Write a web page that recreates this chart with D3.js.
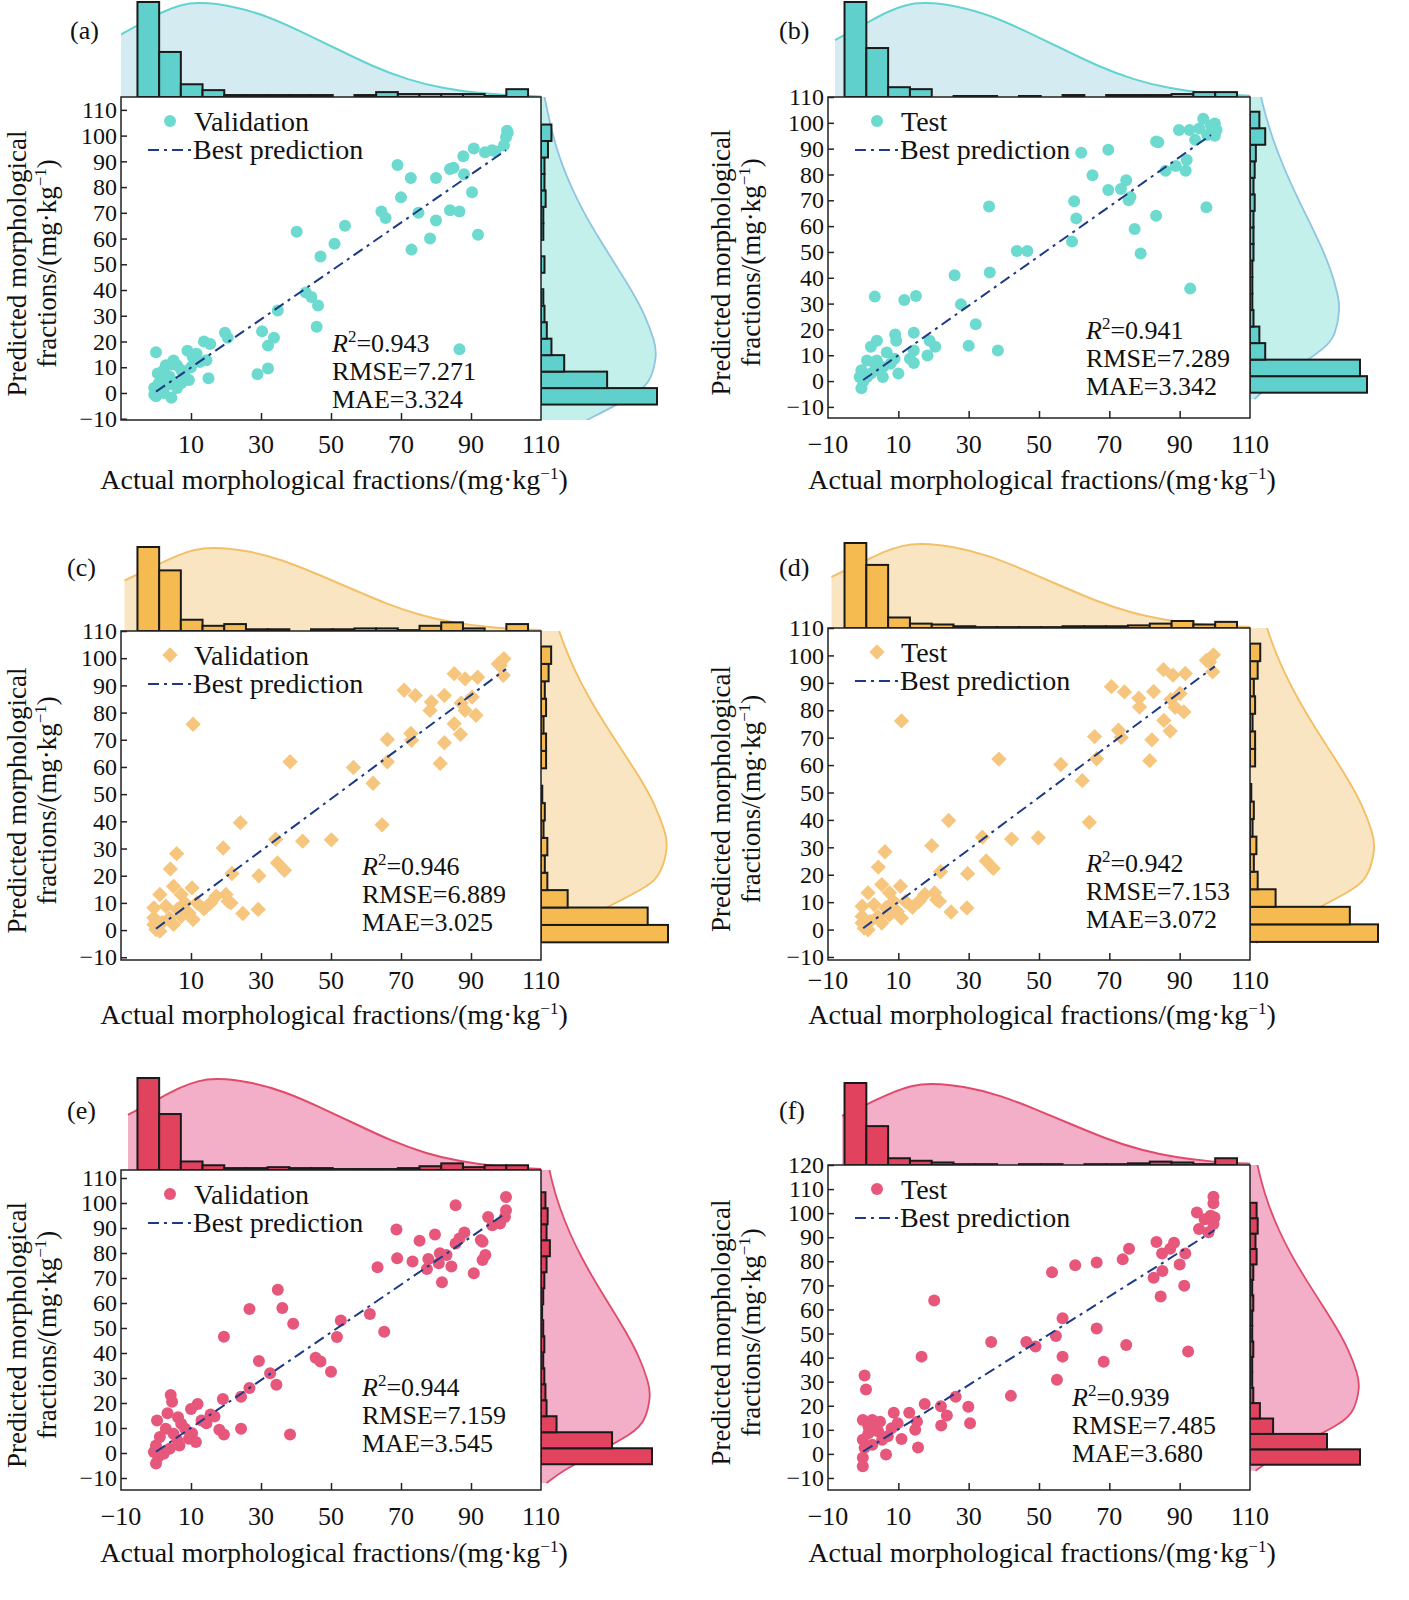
<!DOCTYPE html>
<html><head><meta charset="utf-8">
<script src="https://cdn.jsdelivr.net/npm/d3@7"></script>
<style>body{margin:0;background:#fff}svg{font-family:"Liberation Serif","DejaVu Serif",serif}</style>
</head><body><svg id="c" width="1409" height="1600"></svg>
<script>
// ---------- data ----------
const panelIds = ["a","b","c","d","e","f"];
const seriesNames = ["Validation","Test","Validation","Test","Validation","Test"];
const r2Values = ["0.943","0.941","0.946","0.942","0.944","0.939"];
const rmseValues = ["7.271","7.289","6.889","7.153","7.159","7.485"];
const maeValues = ["3.324","3.342","3.025","3.072","3.545","3.680"];
const xTickLabelsLeft = [10,30,50,70,90,110];
const xTickLabelsRight = [-10,10,30,50,70,90,110];
const yTicks110 = [-10,0,10,20,30,40,50,60,70,80,90,100,110];
const yTicks120 = [-10,0,10,20,30,40,50,60,70,80,90,100,110,120];

const pointsA = [[100.5,101],[100.3,101.9],[100,99.4],[99.4,96.2],[96,94.3],[90.8,95],[94,93.5],[97,93.8],[87.8,92],[84,87],[85,87.5],[88,85],[69,88.6],[72.8,83.5],[80,83.5],[70,76],[90.3,78],[64.4,70.5],[65.6,68],[75,70],[84,71],[86.7,70.5],[80,67],[92,61.5],[78.3,60],[73,55.7],[40.2,62.6],[54,65],[51,58],[47,53],[42.8,39],[44.4,37.3],[46.3,34],[34.8,32],[45.9,25.7],[30.3,24],[33.7,21.5],[32,18.4],[29,7.3],[32,9.5],[86.7,17],[19.7,23.4],[20.5,21.5],[13.7,20],[15.5,19],[14.4,12.7],[15,5.7],[0,15.8],[9,16.4],[10.5,14],[5,12.6],[2.8,10.8],[6,10.8],[7.2,8.9],[0.5,7.6],[1.7,5],[3.9,6.3],[8.3,6.3],[-0.5,2],[1,0.6],[4.4,-1.9],[-0.5,-0.6],[7.2,3.8],[10,10],[11.6,15.2],[3.3,3.2],[6,1.9],[0,-1.3],[2.2,0],[9.4,5],[5,4.4],[0.8,3.8],[4,11],[12.5,12],[2,8.5]];
const pointsB = [[96.7,101.6],[100,99.7],[100.5,97.2],[98.9,99],[95.6,97.8],[92.8,97.2],[89.8,97.2],[97.8,95.3],[100,95],[94.4,93.4],[83.3,92.8],[83.9,92.5],[62,88.4],[69.7,89.6],[92,85.6],[88.9,83.3],[86,81.4],[91.7,81.4],[65.2,79.7],[74.8,77.8],[69.7,74],[73.3,74.4],[76,71.3],[75.5,70],[60,69.6],[35.8,67.6],[97.6,67.3],[60.6,63],[83.3,64],[77.2,58.9],[59.4,54],[78.9,49.4],[43.7,50.4],[46.7,50.4],[26,41],[36,42],[93,35.8],[3.3,32.7],[11.7,31.4],[15,32.9],[27.8,29.7],[32,22],[30,13.7],[38.3,11.8],[14.4,18.7],[9.1,18],[9.4,15.6],[3.9,15.6],[2.2,13.3],[18.9,15.6],[20.5,13.3],[18.3,9.9],[14.4,11.8],[13.3,8.6],[14.4,7],[6.7,11.1],[8.9,8.6],[10,2.9],[5.6,5.4],[1.1,8],[3.3,6.7],[-0.5,4.2],[-1,1.6],[-0.5,-2.8],[1.1,1.6],[4.4,4.2],[2.2,2.9],[0,-0.3],[3.9,8],[7.8,6.7],[5.6,1.6]];
const pointsC = [[99.4,99.8],[98.3,97.3],[99.2,93.7],[97.8,97.9],[85.2,94.3],[88.3,92.4],[91.9,93],[70.9,88.2],[74.1,86.3],[82.4,86.3],[90.3,85.7],[87.2,83.5],[78.7,83.9],[78.3,80.8],[88.3,80.8],[91.4,79],[85.2,75.9],[87,72],[82.4,68.9],[81.2,61.3],[72.8,72.3],[73,69.8],[66.1,70.1],[66.1,61.9],[56.4,59.8],[62,54],[64.6,38.7],[10.6,75.7],[38.3,61.9],[24.1,39.5],[19.2,30.2],[5.9,28.1],[4.1,22.5],[34.2,33.4],[41.9,32.7],[50.1,33.2],[21.7,20.8],[29.4,20],[34.7,24.7],[36.7,22],[24.8,6.1],[29.2,7.6],[5,16.1],[10.3,15.5],[1.1,13.1],[7.2,13.1],[17.2,12.5],[20,13.1],[20.6,10.6],[21.4,10],[13.7,7.8],[10.6,3.9],[7.2,5.1],[3.9,4.5],[1.7,2.7],[0,0.2],[-0.6,2.1],[5,2.1],[2.8,8.8],[-0.6,8.2],[8.3,10],[11.7,10],[15.6,10],[6.1,7.6],[-0.6,4.5],[9.4,6.3],[1.1,-0.4]];
const pointsD = [[99.6,100.2],[98.5,97.6],[99.4,94],[97.6,98.2],[85.4,94.8],[88.1,92.8],[91.6,93.4],[70.6,88.6],[74.3,86.7],[82.6,86.8],[90.1,86.1],[87.5,83.9],[78.4,84.4],[78.6,81.2],[88.7,81.1],[91.2,79.4],[85.5,76.3],[87.3,72.4],[82.1,69.2],[81.5,61.6],[72.6,72.7],[73.4,70.1],[65.8,70.4],[66.4,62.3],[56.2,60.2],[62.3,54.3],[64.3,39.1],[10.9,76.1],[38.6,62.2],[24.3,39.8],[19.5,30.6],[6.2,28.4],[4.3,22.8],[33.9,33.7],[42.2,33],[49.8,33.5],[22,21.1],[29.7,20.4],[35,25],[37,22.3],[25,6.4],[29.5,7.9],[5.3,16.4],[10.6,15.8],[1.4,13.4],[7.5,13.4],[17.5,12.8],[20.3,13.4],[20.9,10.9],[21.7,10.3],[14,8.1],[10.9,4.2],[7.5,5.4],[4.2,4.8],[2,3],[0.3,0.5],[-0.3,2.4],[5.3,2.4],[3.1,9.1],[-0.3,8.5],[8.6,10.3],[12,10.3],[15.9,10.3],[6.4,7.9],[-0.3,4.8],[9.7,6.6],[1.4,-0.1]];
const pointsE = [[100,102.4],[100,97.1],[99.7,94.4],[98.3,91.8],[96.1,91.1],[94.9,94.4],[85.6,99.1],[88.1,88.2],[86.7,85.8],[85.6,83.8],[92.8,85.2],[93.3,84.5],[94.1,79.2],[93.3,77.2],[90.8,71.9],[68.7,89.4],[75.3,84.9],[79.7,87.4],[68.9,77.9],[73.3,76.6],[77.8,77.6],[81.1,79.9],[83,79.2],[77.4,73.6],[80.8,75.9],[84.4,74.6],[81.7,68.3],[63.3,74.3],[61.1,55.6],[65.2,48.5],[52.8,53],[51.7,46.4],[34.8,65.3],[26.7,57.6],[36.1,58],[39.2,51.7],[19.4,46.5],[45.6,38.1],[47,36.6],[50,32.5],[29.4,36.8],[32.6,31.9],[34.4,27.3],[26.7,26],[24.3,22.5],[19.1,21.6],[38.3,7.4],[24.3,9.7],[19.4,7.4],[18.1,9.3],[4.2,23.2],[4.6,20.5],[3.3,15.9],[0.3,13],[6.3,14.3],[7.2,11.7],[10,17.6],[11.9,19.6],[13,13],[14.4,11.9],[15.6,15.4],[16.7,14.6],[10.3,7.9],[9.4,5.7],[11.4,4.4],[5,7.7],[2.8,9.7],[1.1,6.4],[0,3],[0.6,-1.6],[0,-4.2],[3.9,1.7],[6.1,5],[2.2,-0.3],[-0.6,0.4],[8.3,9.7],[6.7,3]];
const pointsF = [[99.6,106.8],[99.6,104.1],[94.9,100.3],[98.8,98.9],[99.9,98.2],[97.1,97.5],[99.6,95.5],[95.5,93.4],[98.2,92.1],[83.4,88],[88.4,87.7],[85,83.2],[87.3,85.2],[91.6,83.2],[75.6,85.2],[73.8,80.8],[90,78.7],[85.1,76],[82.6,73.2],[91.3,69.8],[84.6,65.4],[66.4,79.5],[60.3,78.4],[53.7,75.4],[56.7,56.3],[66.4,52.1],[54.8,49],[46.4,46.5],[49,44.6],[36.4,46.5],[56.7,40.4],[74.8,45.2],[92.4,42.5],[68.4,38.3],[55.1,30.8],[20.2,63.7],[16.6,40.4],[42,24.1],[26.3,23.7],[17.5,20.7],[22.1,19.8],[29.9,19.6],[23.8,15.9],[22.2,11.8],[30.4,12.7],[0.4,32.6],[0.8,26.7],[-0.1,14.1],[2.6,14.1],[4.8,13.4],[8.7,17.1],[13.1,17.1],[15.3,13.4],[14.8,10],[15.6,2.7],[10.9,6.2],[7,7.3],[6.5,-0.3],[8.1,10.7],[4.3,9.3],[1.5,8.6],[-0.1,5.9],[0.4,2.5],[-0.1,-1.6],[-0.1,-5.1],[2.6,3.8],[5.4,5.9],[3.7,11.4],[1.5,11.4],[9.8,12.7]];

const fitLines = [[[0,0.5],[100,94.3]],[[0,0.4],[98.9,95.3]],[[0,0.5],[100,96]],[[0,0.5],[100,96]],[[0,0.5],[100,96]],[[0,1],[100,93]]];

const topHistCounts = [
 [97,46,13,7,2,2,2,2,2,0,2,5,3,3,3,3,1,8],
 [97,50,10,8,0,1,1,0,1,0,2,0,2,2,2,3,5,5],
 [97,70,13,6,8,2,2,0,2,2,3,3,1,6,10,3,0,8],
 [97,72,12,5,4,2,1,1,1,1,2,2,2,3,5,8,4,7],
 [97,59,9,5,2,2,3,2,2,1,1,1,2,4,7,3,5,5],
 [97,46,8,5,3,1,1,0,1,1,0,1,1,2,4,3,1,8]];
const rightHistCounts = [
 [100,57,20,9,5,3,2,0,3,0,2,2,4,3,3,6,9],
 [100,94,13,8,3,2,2,2,3,3,3,4,3,4,5,13,8],
 [100,84,21,5,3,5,2,3,1,0,4,4,2,4,3,6,8],
 [100,78,20,6,3,5,2,3,1,0,4,4,2,4,3,6,8],
 [100,64,14,5,4,3,2,3,2,1,2,3,5,8,5,6,4],
 [100,70,21,9,3,2,2,3,2,2,3,2,3,6,5,7,6]];
const topBinStart = -5.3, topBinWidth = 6.2;
const rightBinStart = -4.5, rightBinWidth = 6.4;

// density curve shapes (offset from peak value, relative height)
const kdeTopShape = [[-25,0.6],[-22,0.66],[-15,0.8],[-10,0.9],[-5,0.97],[0,1],[10,0.96],[20,0.85],[30,0.68],[40,0.5],[50,0.32],[60,0.18],[70,0.09],[80,0.04],[90,0.015],[100,0.003],[110,0]];
const kdeRightShape = [[100,0.03],[85,0.1],[75,0.17],[65,0.26],[55,0.37],[45,0.5],[35,0.64],[25,0.78],[15,0.9],[5,0.98],[0,1],[-10,0.95],[-15,0.85],[-25,0.42],[-30,0.2],[-35,0.05]];
const kdeTopPeak = [12,17,16,16,17,19];
const kdeRightPeak = [15,28,31,30,23,28];
const kdeRightPeakFrac = [1,0.77,1,0.98,0.99,1];

// ---------- layout / style ----------
const layout = [
 {L:121,R:541,T:97,B:420,yd:[-10.5,115],yt:yTicks110,xt:xTickLabelsLeft,topH:95,rightW:116,lab:[70,39],st:[332,352],xtY:453,xTitleY:489,yt1:13},
 {L:828,R:1250,T:97,B:418,yd:[-14.3,110],yt:yTicks110,xt:xTickLabelsRight,topH:95,rightW:117,lab:[779,39],st:[1086,339],xtY:453,xTitleY:489,yt1:717},
 {L:121,R:541,T:631,B:960,yd:[-11,110],yt:yTicks110,xt:xTickLabelsLeft,topH:84,rightW:127,lab:[67,576],st:[362,875],xtY:989,xTitleY:1024,yt1:13},
 {L:828,R:1250,T:628,B:960,yd:[-11.1,110],yt:yTicks110,xt:xTickLabelsRight,topH:85,rightW:128,lab:[779,576],st:[1086,872],xtY:989,xTitleY:1024,yt1:717},
 {L:121,R:541,T:1170,B:1490,yd:[-14.8,113.2],yt:yTicks110,xt:xTickLabelsRight,topH:92,rightW:111,lab:[67,1119],st:[362,1396],xtY:1525,xTitleY:1562,yt1:13},
 {L:828,R:1250,T:1165,B:1490,yd:[-15,120],yt:yTicks120,xt:xTickLabelsRight,topH:82,rightW:110,lab:[779,1119],st:[1072,1406],xtY:1525,xTitleY:1562,yt1:717}];
const themes = {
 cyan:{bar:"#5fd0cb",topFill:"#d4ecf1",topLine:"#62d3cf",rightFill:"#c4f0ec",rightLine:"#8fc4e2",pt:"#6cdacf"},
 orange:{bar:"#f5ba50",topFill:"#fae5c2",topLine:"#f3c06a",rightFill:"#fae5c2",rightLine:"#f3bd60",pt:"#f6c67e"},
 pink:{bar:"#e1435f",topFill:"#f3afc8",topLine:"#e04b6c",rightFill:"#f3afc8",rightLine:"#e04b6c",pt:"#e6577b"}};
const panelTheme = ["cyan","cyan","orange","orange","pink","pink"];
const panelMarker = ["circle","circle","diamond","diamond","hex","hex"];
const allPoints = [pointsA,pointsB,pointsC,pointsD,pointsE,pointsF];

const svg = d3.select("#c");
const FS = 26, YFS = 24, TS = 28, STS = 26, SUP = 17;
const diamond = d3.symbol(d3.symbolDiamond2, 150);

panelIds.forEach((id,i)=>{
  const lo = layout[i], th = themes[panelTheme[i]];
  const x = d3.scaleLinear().domain([-10,110]).range([lo.L,lo.R]);
  const y = d3.scaleLinear().domain(lo.yd).range([lo.B,lo.T]);
  const g = svg.append("g");
  const cid = "clip"+id;
  const defs = svg.append("defs");
  defs.append("clipPath").attr("id",cid+"t").append("rect").attr("x",lo.L).attr("y",lo.T-lo.topH-5).attr("width",lo.R-lo.L).attr("height",lo.topH+5);
  defs.append("clipPath").attr("id",cid+"r").append("rect").attr("x",lo.R).attr("y",lo.T).attr("width",lo.rightW+30).attr("height",lo.B-lo.T);

  // top marginal
  const hTop = d3.scaleLinear().domain([0,97]).range([lo.T,lo.T-lo.topH]);
  const kt = kdeTopShape.map(([dx,f])=>[kdeTopPeak[i]+dx, f]);
  const gt = g.append("g").attr("clip-path",`url(#${cid}t)`);
  gt.append("path").datum(kt).attr("fill",th.topFill)
    .attr("d",d3.area().curve(d3.curveBasis).x(d=>x(d[0])).y0(lo.T).y1(d=>hTop(d[1]*97)));
  g.append("g").selectAll("rect").data(topHistCounts[i]).join("rect")
    .attr("x",(d,k)=>x(topBinStart+k*topBinWidth)).attr("width",x(topBinWidth)-x(0))
    .attr("y",d=>hTop(d)).attr("height",d=>lo.T-hTop(d))
    .attr("fill",th.bar).attr("stroke","#1a1a1a").attr("stroke-width",2);
  gt.append("path").datum(kt).attr("fill","none").attr("stroke",th.topLine).attr("stroke-width",2)
    .attr("d",d3.line().curve(d3.curveBasis).x(d=>x(d[0])).y(d=>hTop(d[1]*97)));

  // right marginal
  const wR = d3.scaleLinear().domain([0,100]).range([lo.R,lo.R+lo.rightW]);
  const kr = kdeRightShape.map(([dv,f])=>[kdeRightPeak[i]+dv, f*kdeRightPeakFrac[i]]);
  const gr = g.append("g").attr("clip-path",`url(#${cid}r)`);
  gr.append("path").datum(kr).attr("fill",th.rightFill)
    .attr("d",d3.area().curve(d3.curveBasis).y(d=>y(d[0])).x0(lo.R).x1(d=>wR(d[1]*100)));
  g.append("g").selectAll("rect").data(rightHistCounts[i]).join("rect")
    .attr("y",(d,k)=>y(rightBinStart+(k+1)*rightBinWidth)).attr("height",y(0)-y(rightBinWidth))
    .attr("x",lo.R).attr("width",d=>wR(d)-lo.R)
    .attr("fill",th.bar).attr("stroke","#1a1a1a").attr("stroke-width",2);
  gr.append("path").datum(kr).attr("fill","none").attr("stroke",th.rightLine).attr("stroke-width",1.8)
    .attr("d",d3.line().curve(d3.curveBasis).y(d=>y(d[0])).x(d=>wR(d[1]*100)));

  // main box
  g.append("rect").attr("x",lo.L).attr("y",lo.T).attr("width",lo.R-lo.L).attr("height",lo.B-lo.T)
    .attr("fill","#fff").attr("stroke","#222").attr("stroke-width",1.5);

  // axes
  const xa = g.append("g").attr("transform",`translate(0,${lo.B})`)
    .call(d3.axisBottom(x).tickValues([10,30,50,70,90]).tickSize(-7).tickFormat(""));
  xa.select(".domain").remove(); xa.selectAll("line").attr("stroke","#222").attr("stroke-width",1.5);
  g.append("g").selectAll("text").data(lo.xt).join("text")
    .attr("x",d=>x(d)).attr("y",lo.xtY).attr("text-anchor","middle").attr("font-size",FS).attr("fill","#111")
    .text(d=>d<0?"\u2212"+Math.abs(d):d);
  const ya = g.append("g").attr("transform",`translate(${lo.L},0)`)
    .call(d3.axisLeft(y).tickValues(lo.yt).tickSize(-6).tickPadding(8).tickFormat(d=>d<0?"\u2212"+Math.abs(d):d));
  ya.select(".domain").remove(); ya.selectAll("line").attr("stroke","#222").attr("stroke-width",1.5);
  ya.selectAll("text").attr("font-size",YFS).attr("fill","#111").attr("font-family","Liberation Serif").attr("x",-4);

  // points
  const col = th.pt;
  const pg = g.append("g");
  const pts = allPoints[i];
  if(panelMarker[i]==="diamond"){
    pg.selectAll("path").data(pts).join("path")
      .attr("d",diamond).attr("transform",d=>`translate(${x(d[0])},${y(d[1])})`).attr("fill",col);
  } else {
    pg.selectAll("circle").data(pts).join("circle")
      .attr("cx",d=>x(d[0])).attr("cy",d=>y(d[1])).attr("r",6).attr("fill",col);
  }
  // fit line
  g.append("path").datum(fitLines[i]).attr("fill","none").attr("stroke","#1c3a85").attr("stroke-width",2)
    .attr("stroke-dasharray","11,5,3,5").attr("d",d3.line().x(d=>x(d[0])).y(d=>y(d[1])));

  // legend
  const lx = lo.L, ly = lo.T;
  if(panelMarker[i]==="diamond"){
    g.append("path").attr("d",diamond).attr("transform",`translate(${lx+49},${ly+24})`).attr("fill",col);
  } else g.append("circle").attr("cx",lx+49).attr("cy",ly+24).attr("r",6).attr("fill",col);
  g.append("text").attr("x",lx+73).attr("y",ly+34).attr("font-size",TS).attr("fill","#111").text(seriesNames[i]);
  g.append("line").attr("x1",lx+27).attr("x2",lx+70).attr("y1",ly+53).attr("y2",ly+53)
    .attr("stroke","#1c3a85").attr("stroke-width",2).attr("stroke-dasharray","11,5,3,5");
  g.append("text").attr("x",lx+72).attr("y",ly+62).attr("font-size",TS).attr("fill","#111").text("Best prediction");

  // stats
  const s = g.append("g").attr("font-size",STS).attr("fill","#111");
  const t1 = s.append("text").attr("x",lo.st[0]).attr("y",lo.st[1]);
  t1.append("tspan").attr("font-style","italic").text("R");
  t1.append("tspan").attr("font-size",SUP).attr("dy",-10).text("2");
  t1.append("tspan").attr("dy",10).text("=" + r2Values[i]);
  s.append("text").attr("x",lo.st[0]).attr("y",lo.st[1]+28).text("RMSE="+rmseValues[i]);
  s.append("text").attr("x",lo.st[0]).attr("y",lo.st[1]+56).text("MAE="+maeValues[i]);

  // panel label
  g.append("text").attr("x",lo.lab[0]).attr("y",lo.lab[1]).attr("font-size",FS).attr("fill","#111").text(`(${id})`);

  // axis titles
  const xt = g.append("text").attr("x",(lo.L+lo.R)/2+3).attr("y",lo.xTitleY).attr("text-anchor","middle").attr("font-size",TS).attr("fill","#111");
  xt.append("tspan").text("Actual morphological fractions/(mg\u00b7kg");
  xt.append("tspan").attr("font-size",SUP).attr("dy",-10).text("\u22121");
  xt.append("tspan").attr("dy",10).text(")");
  const cy = (lo.T+lo.B)/2 + 5;
  g.append("text").attr("transform",`translate(${lo.yt1+13},${cy}) rotate(-90)`).attr("text-anchor","middle").attr("font-size",27).attr("fill","#111").text("Predicted morphological");
  const yt2 = g.append("text").attr("transform",`translate(${lo.yt1+43},${cy}) rotate(-90)`).attr("text-anchor","middle").attr("font-size",27).attr("fill","#111");
  yt2.append("tspan").text("fractions/(mg\u00b7kg");
  yt2.append("tspan").attr("font-size",SUP).attr("dy",-10).text("\u22121");
  yt2.append("tspan").attr("dy",10).text(")");
});
</script></body></html>
